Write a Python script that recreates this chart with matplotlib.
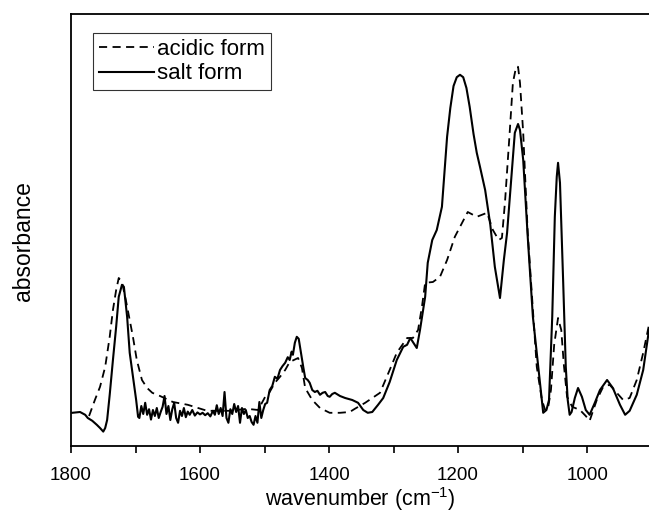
import numpy as np
import matplotlib
matplotlib.use("Agg")
import matplotlib.pyplot as plt
from matplotlib.ticker import MultipleLocator

plt.rcParams['font.family'] = ['Liberation Sans', 'DejaVu Sans']

# salt form (solid line): wavenumber (cm-1), absorbance (a.u.)
salt_wn = [1798, 1786, 1778, 1774, 1767, 1760, 1755, 1750, 1747, 1744, 1740, 1735, 1730, 1726,
           1721, 1718, 1713, 1709, 1704, 1699, 1696,
           1694, 1691, 1688, 1685, 1682, 1679, 1676, 1673, 1670, 1667, 1664, 1661, 1658, 1655,
           1652, 1649, 1646, 1643, 1640, 1637, 1634, 1631, 1628, 1625, 1622, 1619, 1616, 1612,
           1608, 1604, 1600, 1596, 1592, 1588, 1584, 1580, 1577, 1574, 1571, 1568, 1565, 1562,
           1559, 1556, 1553, 1550, 1547, 1544, 1541, 1538, 1535, 1532, 1529, 1526, 1523, 1520,
           1517, 1514, 1511, 1508, 1505, 1502, 1499,
           1496, 1492, 1488, 1484, 1480, 1476, 1472, 1468, 1464, 1461, 1458, 1456, 1453, 1450,
           1447, 1445, 1440, 1437, 1433, 1430, 1426, 1422, 1418, 1414, 1410, 1406, 1402, 1399,
           1395, 1391, 1383, 1375, 1364, 1355, 1347, 1340, 1333, 1324, 1316, 1306, 1295, 1285,
           1279, 1274, 1270, 1264, 1259, 1251, 1247, 1240, 1233, 1225, 1217, 1212, 1207, 1202,
           1197, 1192, 1187, 1182, 1176, 1171, 1166, 1158, 1150, 1143, 1135, 1129, 1124, 1116,
           1112, 1107, 1104, 1099, 1092, 1084, 1073, 1068, 1063, 1059, 1054, 1050, 1047, 1045,
           1042, 1037, 1033, 1030, 1027, 1024, 1019, 1014, 1008, 1002, 996, 988, 980, 969, 960,
           949, 941, 934, 923, 913, 904]
salt_abs = [0.083, 0.085, 0.078, 0.070, 0.063, 0.053, 0.045, 0.036, 0.045, 0.065, 0.128, 0.215,
            0.298, 0.373, 0.403, 0.398, 0.323, 0.233, 0.173, 0.115, 0.073,
            0.070, 0.100, 0.080, 0.108, 0.078, 0.092, 0.066, 0.090, 0.075, 0.095, 0.070, 0.085,
            0.098, 0.125, 0.080, 0.100, 0.065, 0.092, 0.108, 0.070, 0.058, 0.088, 0.075, 0.095,
            0.072, 0.086, 0.078, 0.090, 0.076, 0.084, 0.079, 0.083, 0.077, 0.082, 0.074, 0.088,
            0.078, 0.102, 0.080, 0.095, 0.075, 0.135, 0.070, 0.058, 0.092, 0.080, 0.105, 0.085,
            0.100, 0.058, 0.095, 0.080, 0.090, 0.070, 0.075, 0.060, 0.053, 0.075, 0.058, 0.110,
            0.070, 0.090, 0.105,
            0.108, 0.140, 0.150, 0.173, 0.168, 0.190, 0.200, 0.208, 0.222, 0.215, 0.236, 0.228,
            0.258, 0.273, 0.268, 0.248, 0.198, 0.170, 0.165, 0.158, 0.140, 0.135, 0.138, 0.128,
            0.133, 0.135, 0.125, 0.123, 0.130, 0.133, 0.125, 0.120, 0.115, 0.108, 0.090, 0.083,
            0.085, 0.103, 0.120, 0.160, 0.215, 0.248, 0.253, 0.270, 0.260, 0.245, 0.290, 0.373,
            0.458, 0.515, 0.540, 0.598, 0.773, 0.845, 0.900, 0.922, 0.928, 0.922, 0.895, 0.848,
            0.780, 0.733, 0.698, 0.640, 0.553, 0.448, 0.370, 0.465, 0.533, 0.698, 0.783, 0.805,
            0.790, 0.715, 0.523, 0.323, 0.158, 0.083, 0.090, 0.115, 0.323, 0.573, 0.673, 0.708,
            0.658, 0.408, 0.198, 0.115, 0.078, 0.085, 0.120, 0.145, 0.123, 0.090, 0.078, 0.108,
            0.140, 0.165, 0.145, 0.103, 0.078, 0.088, 0.128, 0.190, 0.290]

# acidic form (dashed line)
acid_wn = [1772, 1763, 1755, 1747, 1740, 1735, 1730, 1726, 1721, 1715, 1709, 1704, 1698, 1690,
           1682, 1674, 1662, 1642, 1619, 1589, 1554, 1527, 1510, 1499, 1492, 1484, 1476, 1468,
           1461, 1448, 1442, 1437, 1426, 1414, 1399, 1383, 1368, 1360, 1344, 1321, 1306, 1295,
           1279, 1270, 1262, 1256, 1251, 1239, 1228, 1217, 1205, 1185, 1171, 1155, 1146, 1137,
           1132, 1127, 1120, 1115, 1110, 1107, 1104, 1099, 1096, 1092, 1085, 1078, 1070, 1065,
           1061, 1056, 1051, 1045, 1040, 1036, 1031, 1023, 1011, 1002, 996, 985, 975, 965, 954,
           944, 934, 923, 913, 904]
acid_abs = [0.075, 0.115, 0.148, 0.198, 0.273, 0.340, 0.390, 0.420, 0.410, 0.365, 0.315, 0.273,
            0.215, 0.165, 0.145, 0.133, 0.125, 0.110, 0.103, 0.088, 0.088, 0.093, 0.090, 0.123,
            0.135, 0.158, 0.173, 0.190, 0.210, 0.220, 0.195, 0.145, 0.115, 0.095, 0.083, 0.083,
            0.085, 0.093, 0.108, 0.133, 0.190, 0.233, 0.270, 0.270, 0.290, 0.348, 0.408, 0.410,
            0.423, 0.465, 0.523, 0.585, 0.573, 0.583, 0.540, 0.515, 0.520, 0.615, 0.783, 0.908,
            0.948, 0.948, 0.908, 0.783, 0.673, 0.533, 0.365, 0.198, 0.115, 0.090, 0.090, 0.140,
            0.253, 0.320, 0.290, 0.203, 0.123, 0.098, 0.090, 0.075, 0.063, 0.115, 0.148, 0.153,
            0.133, 0.115, 0.120, 0.165, 0.233, 0.303]

fig = plt.figure(figsize=(6.49, 5.12), dpi=100)
ax = fig.add_axes([71 / 649, 66 / 512, 578 / 649, 432 / 512])

ax.plot(acid_wn, acid_abs, color='black', lw=1.3, ls=(0, (4.5, 3)), label='acidic form')
ax.plot(salt_wn, salt_abs, color='black', lw=1.5, label='salt form')

ax.set_xlim(1800, 904)
ax.set_ylim(0, 1.08)
ax.xaxis.set_major_locator(MultipleLocator(200))
ax.xaxis.set_minor_locator(MultipleLocator(100))
ax.tick_params(axis='x', which='both', direction='out', length=5, width=1.2, labelsize=13.5, pad=10)
ax.set_yticks([])
ax.spines['right'].set_visible(False)
for s in ['left', 'bottom', 'top']:
    ax.spines[s].set_linewidth(1.3)

ax.set_xlabel('wavenumber (cm$^{\\mathregular{-1}}$)', fontsize=15.5, labelpad=1)
ax.set_ylabel('absorbance', fontsize=16.5)
ax.yaxis.set_label_coords(-0.062, 0.475)

leg = ax.legend(loc='upper left', bbox_to_anchor=(0.038, 0.955), fontsize=16, frameon=True,
                fancybox=False, edgecolor='black', handlelength=2.5, handletextpad=0.15,
                borderpad=0.25, labelspacing=0.15, borderaxespad=0)
leg.get_frame().set_linewidth(0.8)

fig.savefig('out.png', dpi=100)
